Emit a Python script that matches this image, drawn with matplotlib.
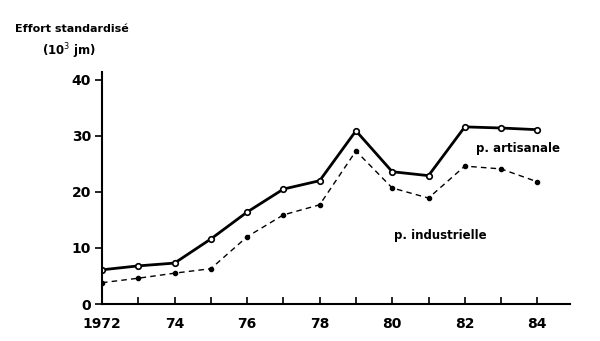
import matplotlib
matplotlib.use("Agg")
import matplotlib.pyplot as plt

years = [1972, 1973, 1974, 1975, 1976, 1977, 1978, 1979, 1980, 1981, 1982, 1983, 1984]
artisanale = [6.1, 6.8, 7.3, 11.6, 16.4, 20.5, 22.0, 30.9, 23.6, 22.9, 31.6, 31.4, 31.1]
industrielle = [3.8, 4.6, 5.5, 6.3, 12.0, 15.9, 17.7, 27.3, 20.7, 18.9, 24.6, 24.1, 21.8]
xtick_labels = ["1972", "74", "76", "78", "80", "82", "84"]
yticks = [0, 10, 20, 30, 40]

fig = plt.figure(figsize=(6, 3.41), dpi=100)
ax = fig.add_axes([0.17, 0.1085, 0.78, 0.6805])

ax.plot(years, artisanale, color='black', linewidth=2, marker='o',
        markersize=4, markerfacecolor='white', markeredgewidth=1.2)
ax.plot(years, industrielle, color='black', linewidth=1, linestyle=(0, (4, 3)),
        marker='o', markersize=3)

ax.set_xlim(1972, 1984.9)
ax.set_ylim(0, 41.4)
ax.set_xticks(years, minor=True)
ax.set_xticks(years[::2])
ax.set_xticklabels(xtick_labels, fontweight='bold', fontsize=10)
ax.set_yticks(yticks)
ax.set_yticklabels([str(v) for v in yticks], fontweight='bold', fontsize=10)
ax.tick_params(axis='x', which='both', direction='in', length=5, width=1.2, pad=9)
ax.tick_params(axis='y', direction='out', length=5, width=1.2, pad=3)
for s in ['top', 'right']:
    ax.spines[s].set_visible(False)
for s in ['left', 'bottom']:
    ax.spines[s].set_linewidth(1.5)

fig.text(0.025, 0.915, "Effort standardisé", fontsize=8, fontweight='bold', va='center')
fig.text(0.07, 0.85, "(10$^3$ jm)", fontsize=8.5, fontweight='bold', va='center')
ax.text(1982.3, 27.7, "p. artisanale", fontsize=8.5, fontweight='bold', va='center')
ax.text(1980.05, 12.2, "p. industrielle", fontsize=8.5, fontweight='bold', va='center')

plt.savefig("out.png", dpi=100)
